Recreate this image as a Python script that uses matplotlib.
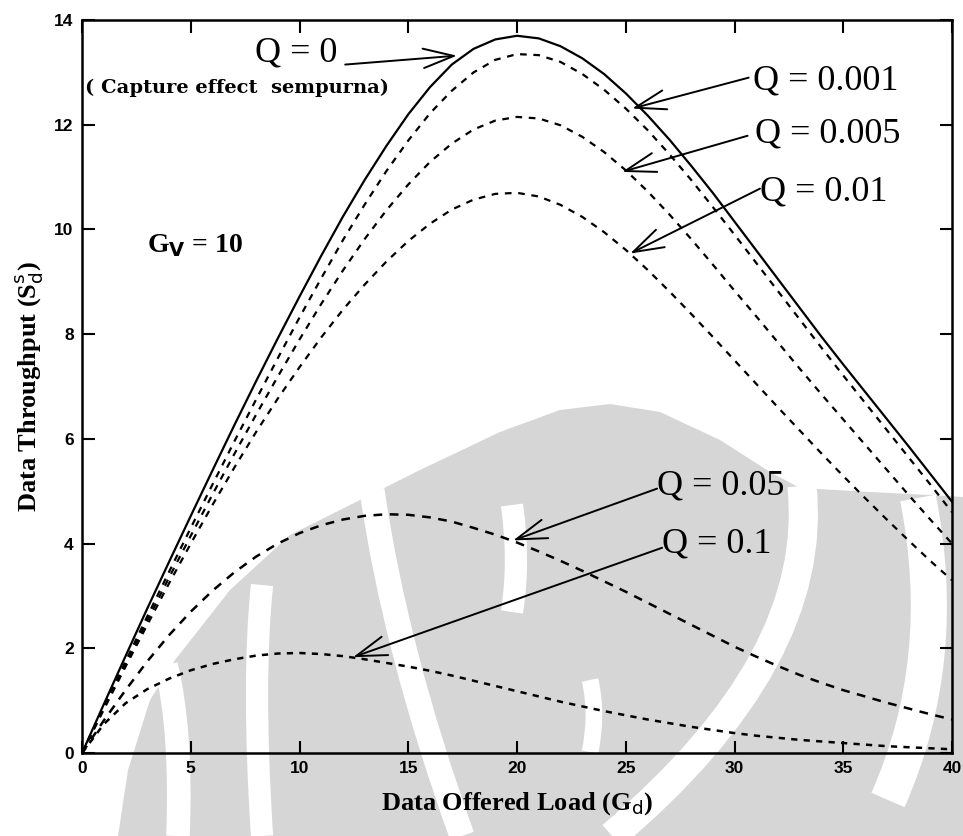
import matplotlib
matplotlib.use("Agg")
import matplotlib.pyplot as plt
from matplotlib.path import Path
from matplotlib.patches import PathPatch
import numpy as np

# offered load (x)
G = list(range(0, 41))

# throughput, one list per Q
S_q0 = [0, 0.93, 1.85, 2.76, 3.65, 4.53, 5.4, 6.26, 7.1, 7.92, 8.72, 9.5, 10.25, 10.95,
        11.6, 12.2, 12.72, 13.15, 13.45, 13.63, 13.7, 13.65, 13.5, 13.27, 12.97, 12.6,
        12.18, 11.72, 11.22, 10.7, 10.15, 9.6, 9.05, 8.5, 7.95, 7.42, 6.9, 6.38, 5.86,
        5.33, 4.8]
S_q0001 = [0, 0.88, 1.75, 2.61, 3.46, 4.3, 5.13, 5.95, 6.75, 7.54, 8.32, 9.07, 9.8, 10.48,
           11.12, 11.7, 12.22, 12.65, 13.0, 13.24, 13.35, 13.33, 13.2, 12.97, 12.67, 12.31,
           11.9, 11.44, 10.95, 10.43, 9.9, 9.36, 8.82, 8.28, 7.74, 7.21, 6.69, 6.17, 5.65,
           5.13, 4.6]
S_q0005 = [0, 0.85, 1.7, 2.53, 3.35, 4.15, 4.94, 5.71, 6.46, 7.19, 7.9, 8.58, 9.22, 9.82,
           10.37, 10.86, 11.29, 11.64, 11.91, 12.08, 12.15, 12.12, 11.99, 11.77, 11.48, 11.13,
           10.73, 10.29, 9.82, 9.33, 8.83, 8.34, 7.84, 7.34, 6.85, 6.37, 5.89, 5.41, 4.93,
           4.46, 4.0]
S_q001 = [0, 0.83, 1.65, 2.45, 3.24, 4.0, 4.74, 5.45, 6.13, 6.77, 7.37, 7.94, 8.47, 8.95,
          9.39, 9.78, 10.11, 10.38, 10.57, 10.68, 10.7, 10.63, 10.47, 10.24, 9.95, 9.61,
          9.23, 8.82, 8.39, 7.95, 7.5, 7.05, 6.6, 6.16, 5.72, 5.29, 4.87, 4.46, 4.06,
          3.67, 3.3]
S_q005 = [0, 0.62, 1.2, 1.75, 2.25, 2.7, 3.1, 3.45, 3.75, 4.0, 4.2, 4.35, 4.46, 4.53,
          4.56, 4.55, 4.5, 4.42, 4.3, 4.17, 4.02, 3.85, 3.67, 3.48, 3.28, 3.08, 2.87, 2.66,
          2.45, 2.24, 2.03, 1.84, 1.66, 1.49, 1.34, 1.2, 1.08, 0.96, 0.85, 0.74, 0.64]
S_q01 = [0, 0.55, 0.95, 1.22, 1.42, 1.58, 1.7, 1.79, 1.86, 1.9, 1.91, 1.89, 1.85, 1.79,
         1.72, 1.65, 1.57, 1.48, 1.38, 1.28, 1.18, 1.08, 0.98, 0.89, 0.8, 0.72, 0.64, 0.57,
         0.5, 0.44, 0.38, 0.33, 0.29, 0.25, 0.22, 0.19, 0.16, 0.13, 0.11, 0.09, 0.07]

x_ticks = [0, 5, 10, 15, 20, 25, 30, 35, 40]
y_ticks = [0, 2, 4, 6, 8, 10, 12, 14]

# label text, text position, arrow start, arrow tip
labels = [
    ("Q = 0", (11.75, 13.38), (12.1, 13.15), (17.24, 13.32), "right"),
    ("Q = 0.001", (30.85, 12.84), (30.65, 12.9), (25.29, 12.31), "left"),
    ("Q = 0.005", (30.94, 11.83), (30.6, 11.79), (24.83, 11.1), "left"),
    ("Q = 0.01", (31.17, 10.72), (31.17, 10.78), (25.2, 9.54), "left"),
    ("Q = 0.05", (26.44, 5.1), (26.44, 5.05), (19.82, 4.06), "left"),
    ("Q = 0.1", (26.67, 4.0), (26.67, 3.92), (12.46, 1.83), "left"),
]

W, H = 963, 836
fig = plt.figure(figsize=(W / 100, H / 100), dpi=100)

# faded emblem behind the plot (scan watermark), pixel coords from top-left
bg = fig.add_axes([0, 0, 1, 1], zorder=0)
bg.set_xlim(0, W)
bg.set_ylim(H, 0)
bg.axis("off")
blob = [(118, 836), (128, 770), (150, 700), (175, 660), (230, 590), (290, 535),
        (340, 510), (420, 470), (500, 432), (560, 410), (610, 404), (660, 412),
        (720, 440), (770, 472), (800, 488), (870, 492), (930, 495), (963, 497), (963, 836)]
bg.fill([p[0] for p in blob], [p[1] for p in blob], color="#d6d6d6", lw=0)

# white strokes inside the emblem: (start, control, end, width)
strokes = [
    ((178, 836), (182, 730), (166, 665), 17),
    ((262, 836), (252, 680), (262, 585), 16),
    ((372, 490), (395, 650), (462, 836), 18),
    ((512, 505), (520, 560), (512, 612), 16),
    ((802, 486), (820, 660), (612, 836), 21),
    ((918, 498), (950, 660), (888, 800), 26),
    ((590, 680), (598, 715), (590, 752), 12),
]
for p0, p1, p2, w in strokes:
    path = Path([p0, p1, p2], [Path.MOVETO, Path.CURVE3, Path.CURVE3])
    bg.add_patch(PathPatch(path, fill=False, edgecolor="white", lw=w, capstyle="butt"))

ax = fig.add_axes([0.0852, 0.0993, 0.9034, 0.8767], zorder=1)
ax.set_facecolor("none")

ax.plot(G, S_q0, color="black", lw=1.6, ls="-")
ax.plot(G, S_q0001, color="black", lw=1.6, ls=(0, (3, 3)))
ax.plot(G, S_q0005, color="black", lw=1.6, ls=(0, (3, 3)))
ax.plot(G, S_q001, color="black", lw=1.6, ls=(0, (3, 3)))
ax.plot(G, S_q005, color="black", lw=1.8, ls=(0, (3.5, 3)))
ax.plot(G, S_q01, color="black", lw=1.8, ls=(0, (2.5, 2.5)))

ax.set_xlim(0, 40)
ax.set_ylim(0, 14)
ax.set_xticks(x_ticks)
ax.set_yticks(y_ticks)
ax.tick_params(direction="in", length=9, width=1.5, top=True, right=True,
               labelsize=12.5, pad=6)
for lab in ax.get_xticklabels() + ax.get_yticklabels():
    lab.set_fontweight("bold")
    lab.set_family("Liberation Sans")
for sp in ax.spines.values():
    sp.set_linewidth(1.8)

serif = "Liberation Serif"
for txt, tpos, astart, tip, ha in labels:
    ax.text(tpos[0], tpos[1], txt, fontsize=26, family=serif, ha=ha, va="center")
    ax.annotate("", xy=tip, xytext=astart,
                arrowprops=dict(arrowstyle="->,head_length=1.1,head_width=0.35",
                                lw=1.4, color="black", mutation_scale=20,
                                shrinkA=0, shrinkB=0))

ax.text(0.15, 12.7, "( Capture effect  sempurna)", fontsize=14, fontweight="bold",
        family="DejaVu Serif", ha="left", va="center")
ax.text(3.0, 9.7, r"G$_{\mathbf{V}}$ = 10", fontsize=20, fontweight="bold",
        family=serif, ha="left", va="center")

ax.set_xlabel(r"Data Offered Load (G$_{\mathrm{d}}$)", fontsize=19, family=serif,
              fontweight="bold", labelpad=10)
ax.set_ylabel(r"Data Throughput (S$_{\mathrm{d}}^{\mathrm{s}}$)", fontsize=19, family=serif,
              fontweight="bold", labelpad=6)

fig.savefig("out.png", dpi=100)
